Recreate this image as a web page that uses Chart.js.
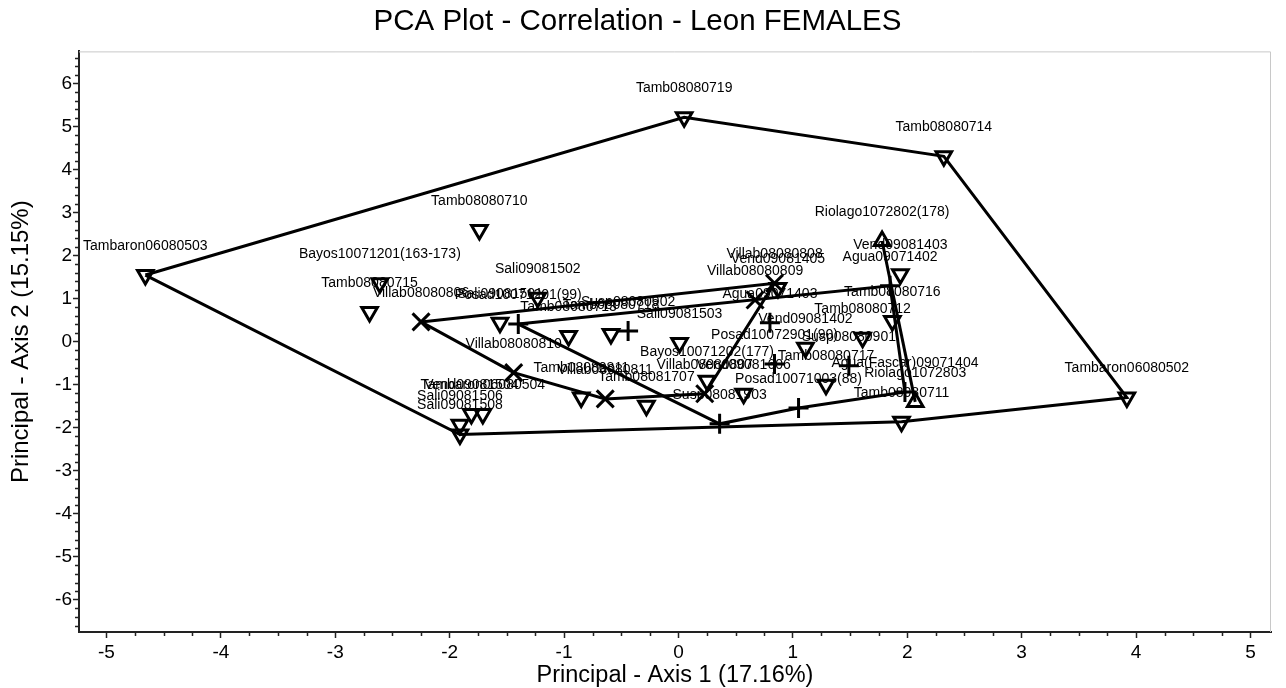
<!DOCTYPE html>
<html>
<head>
<meta charset="utf-8">
<script src="https://cdn.jsdelivr.net/npm/chart.js@4.4.0/dist/chart.umd.min.js"></script>
<style>
  html, body { margin: 0; padding: 0; background: #fff; overflow: hidden; }
  canvas { display: block; }
</style>
</head>
<body>
<canvas id="grafico-pca" width="1286" height="688"></canvas>
<script>
// Grupo triângulo para baixo (Tamb / Sali / Bayos / Vend)
const tambNomes = ["Tambaron06080503", "Tamb08080719", "Tamb08080714", "Tamb08080710", "Bayos10071201(163-173)",
  "Tamb08080715", "Sali09081502", "Sali09081501", "Tamb08080713", "Tamb08080718", "Sali09081503",
  "Vend09081405", "Vend09081403", "Tamb08080716", "Tamb08080712", "Vend09081402", "Bayos10071202(177)",
  "Vend09081606", "Tamb08080717", "Tamb08080811", "Tamb08081707", "Sali09081506", "Sali09081508",
  "Vend09081504", "Tambaron06080504", "Tamb08080711", "Tambaron06080502"];
const tambX = [-4.66, 0.05, 2.32, -1.74, -2.61, -2.70, -1.23, -1.56, -0.96, -0.59, 0.01,
  0.87, 1.94, 1.87, 1.61, 1.11, 0.25, 0.57, 1.29, -0.85, -0.28, -1.91, -1.91, -1.81, -1.71, 1.95, 3.92];
const tambY = [1.55, 5.22, 4.31, 2.60, 1.36, 0.69, 1.02, 0.44, 0.13, 0.18, -0.03,
  1.25, 1.57, 0.48, 0.09, -0.14, -0.91, -1.21, -1.00, -1.30, -1.49, -1.93, -2.16, -1.68, -1.68, -1.86, -1.30];
const tambContorno = ["Tambaron06080503", "Tamb08080719", "Tamb08080714", "Tambaron06080502",
  "Tamb08080711", "Sali09081508", "Tambaron06080503"];

// Grupo X (Villab)
const villabNomes = ["Villab08080806", "Villab08080808", "Villab08080809", "Villab08080810", "Villab08080811", "Villab08080807"];
const villabX = [-2.25, 0.84, 0.67, -1.44, -0.64, 0.23];
const villabY = [0.46, 1.36, 0.97, -0.72, -1.33, -1.21];
const villabContorno = ["Villab08080806", "Villab08080808", "Villab08080807", "Villab08080811", "Villab08080810", "Villab08080806"];

// Grupo + (Posad / Agua / Susp)
const posadNomes = ["Posad10071201(99)", "Susp08080902", "Agua09071403", "Posad10072901(90)", "Susp08080901",
  "Agua09071402", "Agua(Fascar)09071404", "Posad10071003(88)", "Susp08081903"];
const posadX = [-1.40, -0.44, 0.80, 0.84, 1.49, 1.85, 1.98, 1.05, 0.36];
const posadY = [0.41, 0.25, 0.44, -0.52, -0.56, 1.30, -1.17, -1.54, -1.91];
const posadContorno = ["Posad10071201(99)", "Agua09071402", "Agua(Fascar)09071404", "Posad10071003(88)", "Susp08081903", "Posad10071201(99)"];

// Grupo triângulo para cima (Riolago)
const rioNomes = ["Riolago1072802(178)", "Riolago1072803"];
const rioX = [1.78, 2.07];
const rioY = [2.34, -1.40];
const rioContorno = ["Riolago1072802(178)", "Riolago1072803"];

const eixoX = { min: -5.24, max: 5.18, ticks: [-5, -4, -3, -2, -1, 0, 1, 2, 3, 4, 5] };
const eixoY = { min: -6.75, max: 6.75, ticks: [-6, -5, -4, -3, -2, -1, 0, 1, 2, 3, 4, 5, 6] };

const fonte = "'Liberation Sans', Arial, sans-serif";

function pontos(xs, ys) {
  return xs.map((x, i) => ({ x: x, y: ys[i] }));
}

function contorno(ordem, nomes, xs, ys) {
  return ordem.map(n => {
    const i = nomes.indexOf(n);
    return { x: xs[i], y: ys[i] };
  });
}

function linha(dados) {
  return {
    data: dados,
    showLine: true,
    borderColor: "#000",
    borderWidth: 3,
    pointRadius: 0,
    fill: false,
    tension: 0
  };
}

function marcador(nomes, xs, ys, estilo, raio, rotacao) {
  return {
    data: pontos(xs, ys),
    nomes: nomes,
    pointStyle: estilo,
    pointRadius: raio,
    pointRotation: rotacao,
    pointBorderWidth: 3,
    borderColor: "#000",
    backgroundColor: "rgba(0,0,0,0)",
    showLine: false
  };
}

// rótulos dos pontos
const rotulos = {
  id: "rotulos",
  afterDatasetsDraw(chart) {
    const ctx = chart.ctx;
    ctx.save();
    ctx.font = "14px " + fonte;
    ctx.fillStyle = "#000";
    ctx.textAlign = "center";
    ctx.textBaseline = "middle";
    chart.data.datasets.forEach((ds, i) => {
      if (!ds.nomes) return;
      chart.getDatasetMeta(i).data.forEach((el, j) => {
        ctx.fillText(ds.nomes[j], el.x, el.y - 29);
      });
    });
    ctx.restore();
  }
};

// moldura e marcas menores
const moldura = {
  id: "moldura",
  afterDraw(chart) {
    const { ctx, chartArea: a, scales } = chart;
    ctx.save();
    ctx.strokeStyle = "#c8c8c8";
    ctx.lineWidth = 1;
    ctx.beginPath();
    ctx.moveTo(a.left, a.top + 0.5);
    ctx.lineTo(a.right - 0.5, a.top + 0.5);
    ctx.lineTo(a.right - 0.5, a.bottom);
    ctx.stroke();

    ctx.strokeStyle = "#222";
    ctx.lineWidth = 1.5;
    ctx.beginPath();
    for (let k = -40; k <= 40; k++) {
      const v = k / 5;
      if (k % 5 === 0 || v < eixoY.min || v > eixoY.max) continue;
      const py = Math.round(scales.y.getPixelForValue(v)) + 0.5;
      ctx.moveTo(a.left - 4, py);
      ctx.lineTo(a.left, py);
    }
    for (let k = -24; k <= 24; k++) {
      const v = k / 4;
      if (k % 4 === 0 || v < eixoX.min || v > eixoX.max) continue;
      const px = Math.round(scales.x.getPixelForValue(v)) + 0.5;
      ctx.moveTo(px, a.bottom);
      ctx.lineTo(px, a.bottom + 4);
    }
    ctx.stroke();
    ctx.restore();
  }
};

const canvas = document.getElementById("grafico-pca");
const ctx = canvas.getContext("2d");

const grafico = new Chart(ctx, {
  type: "scatter",
  data: {
    datasets: [
      marcador(tambNomes, tambX, tambY, "triangle", 9, 180),
      marcador(villabNomes, villabX, villabY, "crossRot", 12, 0),
      marcador(posadNomes, posadX, posadY, "cross", 10, 0),
      marcador(rioNomes, rioX, rioY, "triangle", 9, 0),
      linha(contorno(tambContorno, tambNomes, tambX, tambY)),
      linha(contorno(villabContorno, villabNomes, villabX, villabY)),
      linha(contorno(posadContorno, posadNomes, posadX, posadY)),
      linha(contorno(rioContorno, rioNomes, rioX, rioY))
    ]
  },
  options: {
    responsive: false,
    animation: false,
    layout: { padding: { left: 0, right: 11, top: 0, bottom: 0 } },
    plugins: {
      legend: { display: false },
      tooltip: { enabled: false },
      title: {
        display: true,
        text: "PCA Plot - Correlation - Leon FEMALES",
        color: "#000",
        font: { family: fonte, size: 29.5, weight: "normal", lineHeight: 1.2 },
        padding: { top: 4, bottom: 12 }
      }
    },
    scales: {
      x: {
        type: "linear",
        min: eixoX.min,
        max: eixoX.max,
        afterBuildTicks: s => { s.ticks = eixoX.ticks.map(v => ({ value: v })); },
        afterFit: s => { s.height = 56; s.paddingLeft = 0; s.paddingRight = 0; },
        grid: { drawOnChartArea: false, drawTicks: true, tickLength: 6, tickColor: "#222", tickWidth: 1.5 },
        border: { display: true, color: "#222", width: 2 },
        ticks: { color: "#000", font: { family: fonte, size: 19 }, padding: 3, maxRotation: 0 },
        title: {
          display: true,
          text: "Principal - Axis 1 (17.16%)",
          color: "#000",
          font: { family: fonte, size: 23.5, lineHeight: 1.05 },
          padding: { top: 0, bottom: 0 }
        }
      },
      y: {
        type: "linear",
        min: eixoY.min,
        max: eixoY.max,
        afterBuildTicks: s => { s.ticks = eixoY.ticks.map(v => ({ value: v })); },
        afterFit: s => { s.width = 79; s.paddingTop = 0; s.paddingBottom = 0; },
        grid: { drawOnChartArea: false, drawTicks: true, tickLength: 6, tickColor: "#222", tickWidth: 1.5 },
        border: { display: true, color: "#222", width: 2 },
        ticks: { color: "#000", font: { family: fonte, size: 19 }, padding: 1 },
        title: {
          display: true,
          text: "Principal - Axis 2 (15.15%)",
          color: "#000",
          font: { family: fonte, size: 24, lineHeight: 1.05 },
          padding: { top: 9, bottom: 0 }
        }
      }
    }
  },
  plugins: [rotulos, moldura]
});
</script>
</body>
</html>
